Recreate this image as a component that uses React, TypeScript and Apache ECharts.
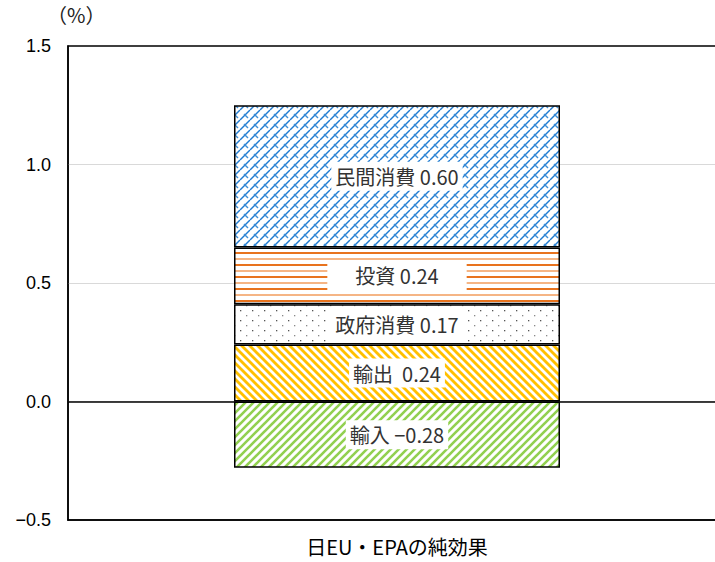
import React, { useEffect, useRef } from 'react';
import * as echarts from 'echarts';

const categories = ['日EU・EPAの純効果'];
const seriesNames = ['輸入', '輸出', '政府消費', '投資', '民間消費'];
const importValues = [-0.28];
const exportValues = [0.24];
const govValues = [0.17];
const investValues = [0.24];
const privateValues = [0.6];
const yMin = -0.5;
const yMax = 1.5;
const yInterval = 0.5;
const unitLabel = '（%）';

function makeCanvas(w: number, h: number, draw: (ctx: CanvasRenderingContext2D) => void) {
  const c = document.createElement('canvas');
  c.width = w;
  c.height = h;
  const ctx = c.getContext('2d')!;
  ctx.fillStyle = '#ffffff';
  ctx.fillRect(0, 0, w, h);
  draw(ctx);
  return c;
}

function stripes(color: string, size: number, width: number, dir: 'up' | 'down') {
  return makeCanvas(size, size, (ctx) => {
    ctx.strokeStyle = color;
    ctx.lineWidth = width;
    ctx.lineCap = 'square';
    for (const k of [-size, 0, size]) {
      ctx.beginPath();
      if (dir === 'down') {
        ctx.moveTo(k, 0);
        ctx.lineTo(k + size, size);
      } else {
        ctx.moveTo(k, size);
        ctx.lineTo(k + size, 0);
      }
      ctx.stroke();
    }
  });
}

function fmt(v: number) {
  const s = Math.abs(v).toFixed(2);
  return v < 0 ? '−' + s : s;
}

export default function App() {
  const ref = useRef<HTMLDivElement>(null);
  useEffect(() => {
    if (!ref.current) return;
    const chart = echarts.init(ref.current, undefined, { renderer: 'svg' });

    const blue = makeCanvas(10, 10, (ctx) => {
      ctx.strokeStyle = '#1F7BD0';
      ctx.lineWidth = 1.4;
      for (const k of [-10, 0, 10]) {
        ctx.beginPath();
        ctx.moveTo(k, 10);
        ctx.lineTo(k + 10, 0);
        ctx.stroke();
      }
      ctx.strokeStyle = '#3F8FD8';
      ctx.lineWidth = 1.4;
      ctx.beginPath();
      ctx.moveTo(4, 4);
      ctx.lineTo(8, 8);
      ctx.stroke();
    });
    const orange = makeCanvas(4, 12, (ctx) => {
      ctx.fillStyle = '#E8731E';
      ctx.fillRect(0, 0, 4, 2);
      ctx.fillStyle = '#F5B585';
      ctx.fillRect(0, 6, 4, 2);
    });
    const dots = makeCanvas(12, 10, (ctx) => {
      ctx.fillStyle = '#555';
      ctx.fillRect(0, 0, 1.3, 1.3);
      ctx.fillStyle = '#888';
      ctx.fillRect(6, 5, 1.3, 1.3);
    });
    const yellow = stripes('#FFC000', 8, 2.8, 'down');
    const green = stripes('#92D050', 8, 2.6, 'up');

    const labelBase = {
      show: true,
      position: 'inside',
      backgroundColor: '#ffffff',
      color: '#333333',
      fontSize: 20,
      fontFamily: '"Noto Sans CJK JP", sans-serif',
      textBorderWidth: 0,
    };

    const mk = (
      name: string,
      data: number[],
      pattern: HTMLCanvasElement,
      padding: number[],
      sep: string,
      extra: any = {}
    ) => ({
      name,
      type: 'bar',
      stack: 'total',
      data,
      barWidth: 326,
      itemStyle: {
        color: { image: pattern, repeat: 'repeat' },
        borderColor: '#000',
        borderWidth: 1.5,
      },
      label: {
        ...labelBase,
        padding,
        formatter: (p: any) => `${name}${sep}${fmt(p.value)}`,
      },
      ...extra,
    });

    chart.setOption({
      animation: false,
      grid: { left: 68, right: 14, top: 46, bottom: 42, show: true, borderColor: '#000', borderWidth: 1.5, backgroundColor: 'transparent' },
      xAxis: {
        type: 'category',
        data: categories,
        axisLine: { onZero: false, lineStyle: { color: '#000', width: 1.5 } },
        axisTick: { show: false },
        axisLabel: { color: '#000', fontSize: 20, margin: 16, fontFamily: '"Noto Sans CJK JP", sans-serif' },
      },
      yAxis: {
        type: 'value',
        min: yMin,
        max: yMax,
        interval: yInterval,
        axisLine: { show: true, lineStyle: { color: '#000', width: 1.5 } },
        axisTick: { show: false },
        axisLabel: {
          color: '#000',
          fontSize: 18,
          margin: 17,
          fontFamily: '"Liberation Sans", Arial, sans-serif',
          formatter: (v: number) => (v < 0 ? '−' + Math.abs(v).toFixed(1) : v.toFixed(1)),
        },
        splitLine: { show: true, showMinLine: false, showMaxLine: false, lineStyle: { color: '#d9d9d9', width: 1 } },
      },
      graphic: [
        {
          type: 'text',
          left: 47,
          top: 4,
          style: { text: unitLabel, fontSize: 20, fill: '#222', fontFamily: '"Noto Sans CJK JP", serif' },
        },
      ],
      series: [
        mk(seriesNames[0], importValues, green, [6, 4, 3, 4], ' ', {
          markLine: {
            silent: true,
            symbol: 'none',
            label: { show: false },
            lineStyle: { color: '#000', width: 1.5, type: 'solid' },
            data: [{ yAxis: 0 }],
          },
        }),
        mk(seriesNames[1], exportValues, yellow, [6, 4, 3, 4], '  '),
        mk(seriesNames[2], govValues, dots, [9, 8, 7, 8], ' '),
        mk(seriesNames[3], investValues, orange, [6, 28, 3, 28], ' '),
        mk(seriesNames[4], privateValues, blue, [6, 4, 3, 4], ' '),
      ],
    });
    return () => chart.dispose();
  }, []);
  return (
    <div style={{ position: 'fixed', left: 0, top: 0, width: 715, height: 562, overflow: 'hidden', background: '#fff' }}>
      <div ref={ref} style={{ width: 740, height: 562 }} />
    </div>
  );
}
